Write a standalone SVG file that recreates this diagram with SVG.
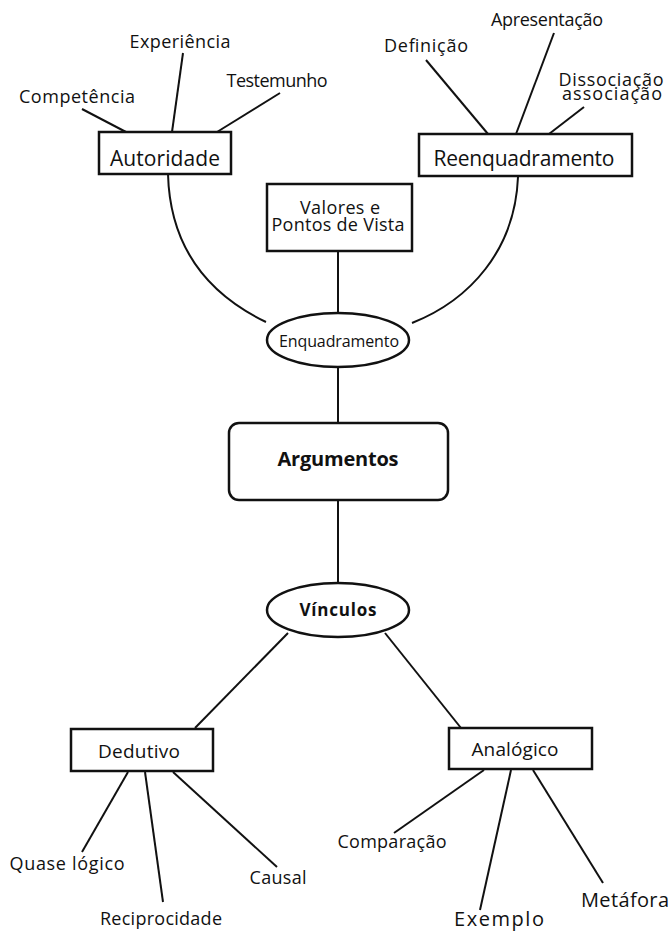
<svg xmlns="http://www.w3.org/2000/svg" width="672" height="931" viewBox="0 0 672 931">
<style>
text{font-family:"Open Sans","Noto Sans","Liberation Sans",sans-serif;fill:#111;text-anchor:middle;font-weight:500}
.box{fill:#fff;stroke:#111;stroke-width:2.5}
.c{fill:none;stroke:#111;stroke-width:2}
.b{font-weight:bold}
</style>
<rect width="672" height="931" fill="#fff"/>
<g id="connectors">
<path class="c" d="M82,109 L126,132"/>
<path class="c" d="M183,53 L172,132"/>
<path class="c" d="M280,93 L217,132"/>
<path class="c" d="M426,60 L488,134"/>
<path class="c" d="M554,33 L516,134"/>
<path class="c" d="M584,107 L549,134"/>
<path class="c" d="M168,174 C170,250 210,295 266,322"/>
<path class="c" d="M518,177 C515,250 470,300 412,323"/>
<path class="c" d="M338,251 L338,313"/>
<path class="c" d="M338,367 L338,423"/>
<path class="c" d="M338,500 L338,583"/>
<path class="c" d="M288,633 L195,728"/>
<path class="c" d="M385,633 L461,728"/>
<path class="c" d="M128,772 L82,852"/>
<path class="c" d="M145,772 L163,902"/>
<path class="c" d="M173,772 L277,867"/>
<path class="c" d="M484,770 L394,833"/>
<path class="c" d="M511,770 L480,910"/>
<path class="c" d="M533,770 L603,883"/>
</g>
<g id="competencia"><text x="77" y="103" font-size="18" textLength="116">Competência</text></g>
<g id="experiencia"><text x="180" y="48" font-size="18" textLength="101">Experiência</text></g>
<g id="testemunho"><text x="277" y="87" font-size="18" textLength="101">Testemunho</text></g>
<g id="autoridade"><rect class="box" x="99" y="132" width="132" height="42"/><text x="165" y="166" font-size="21" textLength="110">Autoridade</text></g>
<g id="definicao"><text x="426" y="52" font-size="18" textLength="84">Definição</text></g>
<g id="apresentacao"><text x="547" y="26" font-size="18" textLength="112">Apresentação</text></g>
<g id="dissociacao"><text font-size="18"><tspan x="611" y="86" textLength="105">Dissociação</tspan><tspan x="612" y="100" textLength="100">associação</tspan></text></g>
<g id="reenquadramento"><rect class="box" x="419" y="134" width="213" height="42"/><text x="524" y="166" font-size="21" textLength="181">Reenquadramento</text></g>
<g id="valores"><rect class="box" x="267" y="184" width="145" height="67"/><text font-size="18"><tspan x="340" y="214" textLength="80">Valores e</tspan><tspan x="338" y="231" textLength="133">Pontos de Vista</tspan></text></g>
<g id="enquadramento"><ellipse class="box" cx="338" cy="340" rx="71" ry="27"/><text x="339" y="347" font-size="16" textLength="120">Enquadramento</text></g>
<g id="argumentos"><rect class="box" x="229" y="423" width="219" height="77" rx="10"/><text class="b" x="338" y="466" font-size="20" textLength="121">Argumentos</text></g>
<g id="vinculos"><ellipse class="box" cx="338" cy="610" rx="71" ry="27"/><text class="b" x="338" y="616" font-size="17" textLength="77">Vínculos</text></g>
<g id="dedutivo"><rect class="box" x="71" y="729" width="142" height="42"/><text x="139" y="758" font-size="19" textLength="82">Dedutivo</text></g>
<g id="analogico"><rect class="box" x="449" y="728" width="143" height="41"/><text x="515" y="756" font-size="19" textLength="87">Analógico</text></g>
<g id="quaselogico"><text x="67" y="870" font-size="18" textLength="115">Quase lógico</text></g>
<g id="reciprocidade"><text x="161" y="925" font-size="18" textLength="122">Reciprocidade</text></g>
<g id="causal"><text x="278" y="884" font-size="18" textLength="57">Causal</text></g>
<g id="comparacao"><text x="392" y="848" font-size="18" textLength="109">Comparação</text></g>
<g id="exemplo"><text x="499" y="926" font-size="20" textLength="90">Exemplo</text></g>
<g id="metafora"><text x="625" y="907" font-size="20" textLength="88">Metáfora</text></g>
</svg>
